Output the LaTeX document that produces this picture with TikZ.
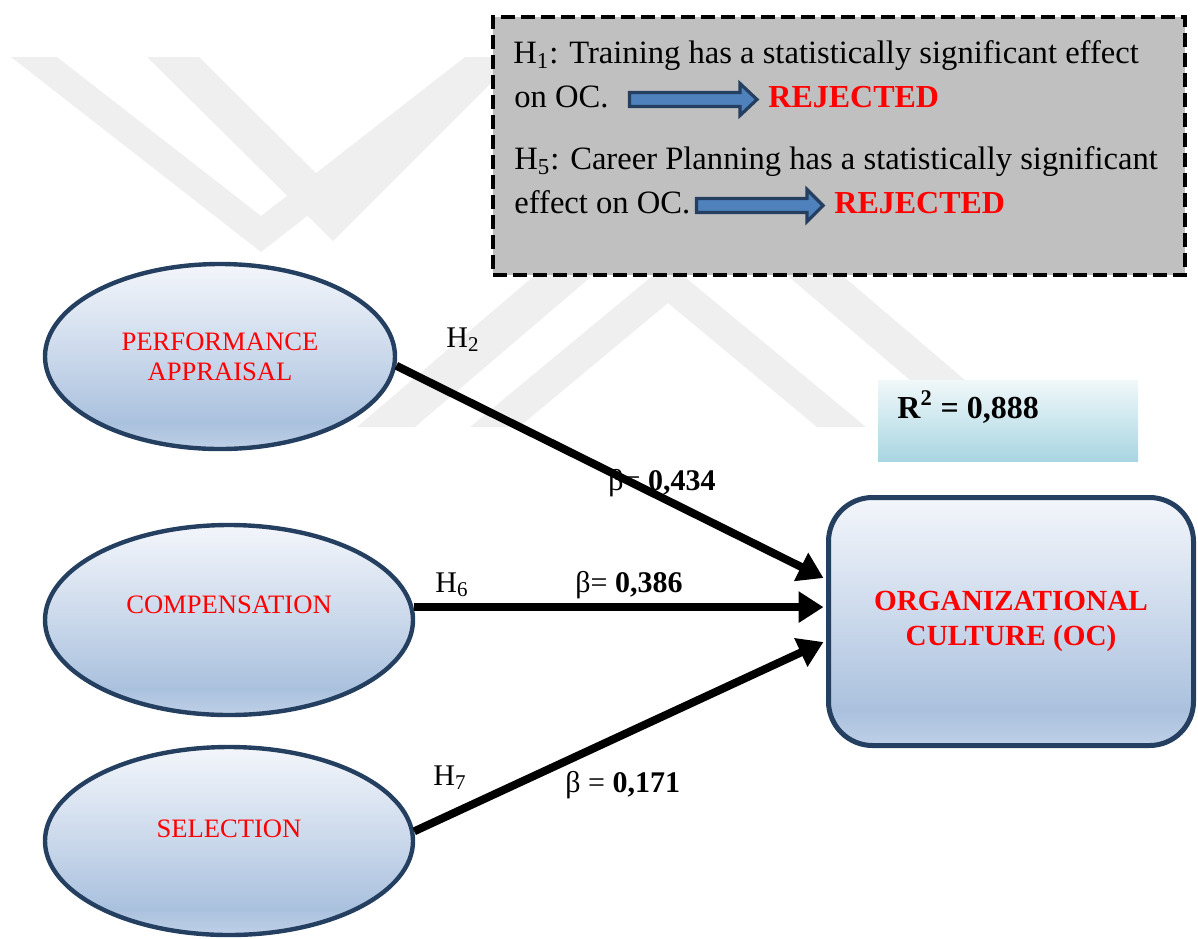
\documentclass[tikz,border=0pt]{standalone}
\usepackage{fontspec}
\setmainfont{Liberation Serif}
\usetikzlibrary{arrows.meta,shapes.geometric}

\definecolor{wmgray}{RGB}{239,239,239}
\definecolor{navy}{HTML}{243F60}
\definecolor{arrowblue}{HTML}{4F81BD}
\definecolor{panelgray}{HTML}{C0C0C0}
\definecolor{ovT}{HTML}{F3F6FB}
\definecolor{ovM}{HTML}{CAD8EB}
\definecolor{ovL}{HTML}{AAC1DE}
\definecolor{ovB}{HTML}{BFD0E7}
\definecolor{rqT}{HTML}{F1F8FA}
\definecolor{rqB}{HTML}{A8D6E2}
\definecolor{hotred}{HTML}{FF0000}

% soft blue fill of the construct shapes (positions run bottom to top)
\pgfdeclareverticalshading{ovalshade}{100bp}{color(0bp)=(ovB); color(25bp)=(ovB); color(32bp)=(ovL); color(50bp)=(ovM); color(75bp)=(ovT); color(100bp)=(ovT)}
\pgfdeclareverticalshading{rsqshade}{100bp}{color(0bp)=(rqB); color(25bp)=(rqB); color(75bp)=(rqT); color(100bp)=(rqT)}

\begin{document}
\begin{tikzpicture}[x=0.5pt, y=-0.5pt,
  oval/.style={ellipse, draw=navy, line width=2.2pt, shade, shading=ovalshade, inner sep=0pt},
  ovaltext/.style={text=hotred, font=\fontsize{13.3pt}{15pt}\selectfont, align=center, inner sep=0pt},
  ocbox/.style={rectangle, rounded corners=22pt, draw=navy, line width=2.5pt, shade, shading=ovalshade,
                text=hotred, font=\fontsize{14.6pt}{17.5pt}\selectfont\bfseries, align=center},
  panel/.style={rectangle, draw=black, fill=panelgray, line width=2.4pt, dash pattern=on 7pt off 3pt},
  paneltext/.style={anchor=base west, inner sep=0pt, font=\fontsize{16.3pt}{19pt}\selectfont},
  verdict/.style={anchor=base west, inner sep=0pt, text=hotred, font=\fontsize{16pt}{19pt}\selectfont\bfseries},
  blockarr/.style={draw=navy, fill=arrowblue, line width=1.6pt, line join=miter},
  hyplabel/.style={anchor=base west, inner sep=0pt, font=\fontsize{15pt}{18pt}\selectfont},
  effect/.style={line width=4pt, -{Triangle[length=12.5pt,width=15pt]}},
  wm/.style={fill=wmgray}
]
\useasboundingbox (0,0) rectangle (1198,938);

% faint background emblem
\fill[wm] (11,57) -- (261,252) -- (511,57) -- (465,57) -- (261,216) -- (57,57) -- cycle;
\fill[wm] (147,57) -- (333,241) -- (517,57) -- (466,57) -- (333,190) -- (199,57) -- cycle;
\fill[wm] (357,427) -- (415,427) -- (640,235) -- (582,235) -- cycle;
\fill[wm] (470,427) -- (668,263) -- (866,427) -- (817,427) -- (668,303) -- (519,427) -- cycle;
\fill[wm] (775,265) -- (830,265) -- (1020,427) -- (965,427) -- cycle;

% hypotheses panel
\node[panel, minimum width=346pt, minimum height=129pt] (hyp) at (839,146) {};
\node[paneltext] (h1line) at (513,63) {H\textsubscript{1}: Training has a statistically significant effect};
\node[paneltext] (h1end) at (514,107) {on OC.};
\draw[blockarr, shift={(628,99.5)}] (1.5,-7) -- (112,-7) -- (112,-16) -- (129,0) -- (112,16) -- (112,7) -- (1.5,7) -- cycle;
\node[verdict] (rej1) at (768,107) {REJECTED};
\node[paneltext] (h5line) at (514,169) {H\textsubscript{5}: Career Planning has a statistically significant};
\node[paneltext] (h5end) at (514,213) {effect on OC.};
\draw[blockarr, shift={(695,205.5)}] (1.5,-7) -- (112,-7) -- (112,-16) -- (128,0) -- (112,16) -- (112,7) -- (1.5,7) -- cycle;
\node[verdict] (rej5) at (834,213) {REJECTED};

% explained variance
\node[rectangle, shade, shading=rsqshade, minimum width=130pt, minimum height=40.5pt, inner sep=0pt] (rsq) at (1008,420.5) {};
\node[anchor=base west, inner sep=0pt, font=\fontsize{16pt}{19pt}\selectfont\bfseries] (rsqt) at (897,418) {R\textsuperscript{2} = 0,888};

% constructs
\node[oval, minimum width=175pt, minimum height=92.5pt] (perf) at (220,356.5) {};
\node[ovaltext] (perfT) at (perf.center) {PERFORMANCE\\APPRAISAL};
\node[oval, minimum width=184pt, minimum height=95pt] (comp) at (229,620) {};
\node[ovaltext] (compT) at ([yshift=7.5pt]comp.center) {COMPENSATION};
\node[oval, minimum width=184pt, minimum height=94pt] (sel) at (229,841) {};
\node[ovaltext] (selT) at ([yshift=6pt]sel.center) {SELECTION};

\node[ocbox, minimum width=182.5pt, minimum height=124pt] (oc) at (1011,621.5) {ORGANIZATIONAL\\CULTURE (OC)};

% hypothesis and coefficient labels
\node[hyplabel] (lh2) at (446,347) {H\textsubscript{2}};
\node[hyplabel] (lh6) at (435,592) {H\textsubscript{6}};
\node[hyplabel] (lh7) at (433,785) {H\textsubscript{7}};
\node[hyplabel] (b2) at (608,490) {β= \textbf{0,434}};
\node[hyplabel] (b6) at (575,592) {β= \textbf{0,386}};
\node[hyplabel] (b7) at (565,792) {β = \textbf{0,171}};

% path arrows
\coordinate (tipA) at ([xshift=-1.25pt,yshift=21.75pt]oc.west);
\coordinate (tipB0) at (oc.west |- comp.4);
\coordinate (tipB) at ([xshift=-1.25pt]tipB0);
\coordinate (tipC) at ([xshift=-1.25pt,yshift=-10.25pt]oc.west);
\draw[effect] (perf.-3) -- (tipA);
\draw[effect] (comp.4) -- (tipB);
\draw[effect] (sel.3) -- (tipC);
\end{tikzpicture}
\end{document}
